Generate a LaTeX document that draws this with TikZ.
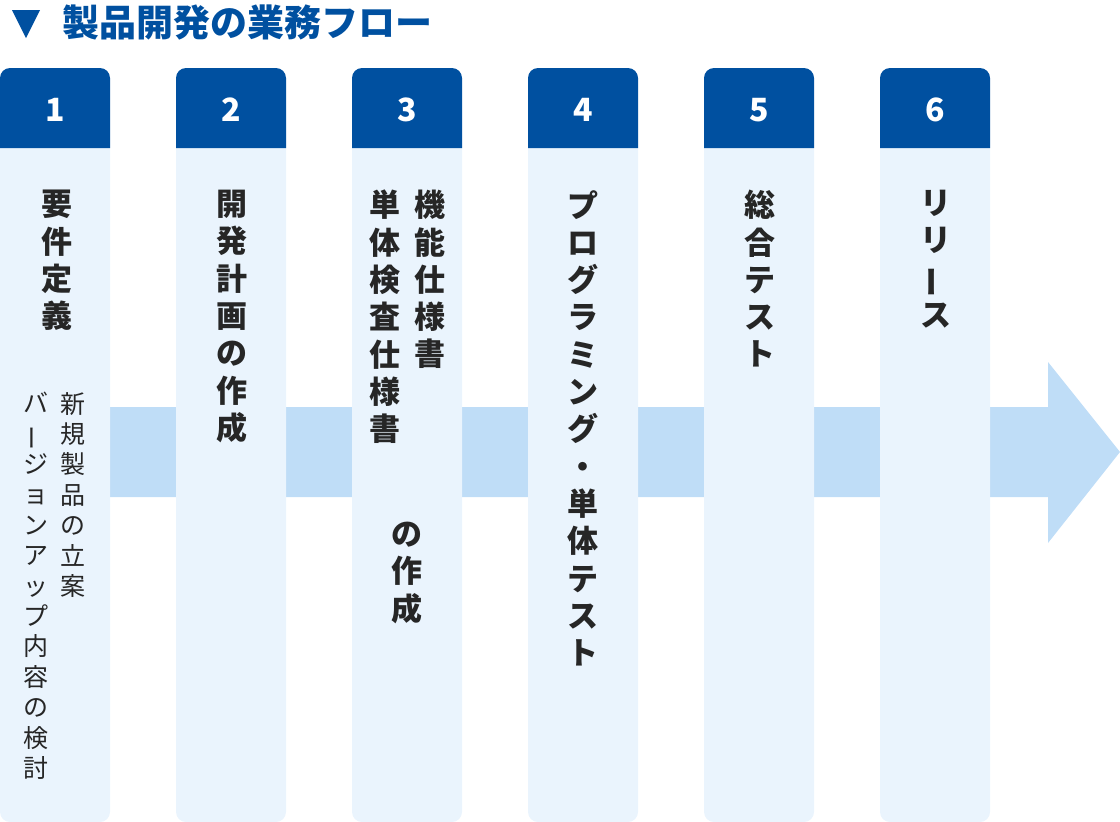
\documentclass[tikz,border=0pt]{standalone}
\usepackage{fontspec}
\setmainfont{Noto Sans CJK JP}
\usetikzlibrary{positioning}
\definecolor{flowblue}{HTML}{0050A0}
\definecolor{bodyblue}{HTML}{EAF4FD}
\definecolor{bandblue}{HTML}{BFDDF7}
\tikzset{
    head/.style={fill=flowblue},
    body/.style={fill=bodyblue},
    num/.style={text=white,font=\bfseries\fontsize{32}{34}\selectfont},
    main/.style={anchor=north,align=center,inner sep=0,text=black!85,font=\bfseries\fontsize{31}{37.3}\selectfont},
    sub/.style={anchor=north,align=center,inner sep=0,text=black!85,font=\fontsize{25}{30.4}\selectfont},
  }
\newcommand{\chou}{\rotatebox[origin=c]{90}{ー}}
\begin{document}
\begin{tikzpicture}[x=1pt,y=-1pt]
				  \useasboundingbox (0,0) rectangle (1120,822);
				  %titre
				  \fill[flowblue] (12,10) -- (40,10) -- (26,38) -- cycle;
				  \node[anchor=west,inner sep=0,text=flowblue,font=\bfseries\fontsize{37}{38}\selectfont] (title) at (62,22) {製品開発の業務フロー};
				  %bande
				  \fill[bandblue] (0,407) -- (1048,407) -- (1048,362) -- (1120,452) -- (1048,543) -- (1048,497) -- (0,497) -- cycle;
				  %colonnes
				  \foreach \i in {1,...,6}{
				    \pgfmathsetmacro{\x}{(\i-1)*176}
				    \fill[body,rounded corners=10] (\x,100) rectangle (\x+110,822);
				    \fill[head] (\x,148) {[rounded corners=10] -- (\x,68) -- (\x+110,68)} -- (\x+110,148) -- cycle;
				    \node[num] (hd\i) at (\x+55,110) {\i};
				  }
				  \node[main] (t1) at (57,190) {要\\件\\定\\義};
				  \node[sub] (s1a) at (73,392) {新\\規\\製\\品\\の\\立\\案};
				  \node[sub] (s1b) at (36,392) {バ\\\chou\\ジ\\ョ\\ン\\ア\\ッ\\プ\\内\\容\\の\\検\\討};
				  \node[main] (t2) at (232,190) {開\\発\\計\\画\\の\\作\\成};
				  \node[main] (t3a) at (430,190) {機\\能\\仕\\様\\書};
				  \node[main] (t3b) at (385,190) {単\\体\\検\\査\\仕\\様\\書};
				  \node[main] (t3c) at (407,522) {の\\作\\成};
				  \node[main] (t4) at (583,190) {プ\\ロ\\グ\\ラ\\ミ\\ン\\グ\\・\\単\\体\\テ\\ス\\ト};
				  \node[main] (t5) at (760,190) {総\\合\\テ\\ス\\ト};
				  \node[main] (t6) at (936,190) {リ\\リ\\\chou\\ス};
				  \end{tikzpicture}
\end{document}
